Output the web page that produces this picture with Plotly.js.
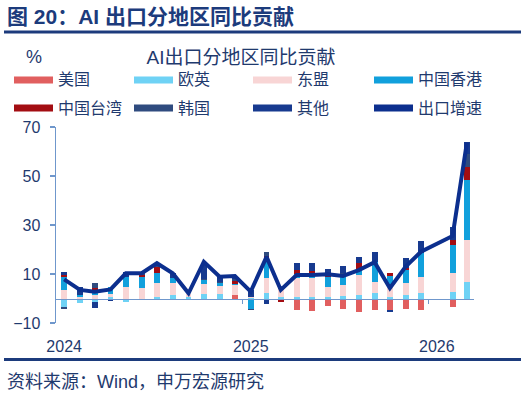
<!DOCTYPE html>
<html>
<head>
<meta charset="utf-8">
<script src="https://cdn.plot.ly/plotly-3.0.1.min.js"></script>
<style>
html,body{margin:0;padding:0;background:#fff;}
#chart{width:530px;height:396px;}
</style>
</head>
<body>
<div id="chart"></div>
<script>
// ---- data (monthly, % contribution to AI export YoY growth) ----
const months = ['2024-01','2024-02','2024-03','2024-04','2024-05','2024-06','2024-07','2024-08','2024-09','2024-10','2024-11','2024-12',
                '2025-01','2025-02','2025-03','2025-04','2025-05','2025-06','2025-07','2025-08','2025-09','2025-10','2025-11','2025-12',
                '2026-01','2026-02','2026-03'];
const seriesNames = ['美国','欧英','东盟','中国香港','中国台湾','韩国','其他'];
const us    = [0, -0.6, 0, 0, 0, 0, 0, 0, 0, 0, 0, 1.4, -0.1, 0, -0.5, -4.6, -4.9, -3.0, -4.4, -5.4, -4.5, -4.5, -4.4, -4.7, null, -3.3, -0.3];
const euUk  = [-3.3, -1.2, -1.3, 0.5, -1.3, -0.8, 0.5, 1.4, 0.5, 2.0, 1.8, 0.2, 0.3, 2.1, 0.6, 0.7, 0.7, 0.5, 1.0, 1.4, 2.1, 0.6, 1.4, 2.1, null, 2.8, 6.9];
const asean = [3.5, 0.5, 1.4, 1.5, 4.8, 4.1, 5.7, 4.8, 1.2, 3.8, 3.5, 3.9, 0.5, 6.1, 3.4, 7.5, 7.6, 4.3, 4.5, 8.2, 4.8, 4.8, 4.8, 6.8, null, 7.5, 17.0];
const hk    = [5.4, 1.0, 1.4, 2.9, 4.1, 4.5, 4.1, 2.0, 0, 1.8, 0.9, 0.3, -4.0, 7.5, 0.8, 2.0, 1.4, 4.1, 4.1, 2.0, 8.1, 3.8, 5.4, 9.5, null, 11.5, 24.5];
const tw    = [0.8, 0, 1.4, 0, 0, 1.1, 2.7, 0, -0.5, 0, 0, 1.5, 0, 1.6, -0.9, 1.4, 1.4, 1.1, 0, 2.8, 0, 1.1, 1.0, 0, null, 2.1, 5.4];
const kr    = [-1.0, 0, 2.0, 0, 0, 0.7, 0.5, 0, 0, 0.5, 0.6, 0.5, -0.6, 1.8, 0, 0, 0, 0, 0.8, 0, 0, 0, 0, 0, null, 0, 5.0];
const other = [1.2, 3.0, -2.7, -1.0, 2.0, 0, -0.4, 2.1, 0, 6.5, 2.7, 1.1, 2.8, -2.2, 0, 2.8, 3.4, 1.9, 2.7, 2.7, 4.1, -1.2, 3.8, 5.2, null, 5.4, 5.2];
const exportGrowth = [7.8, 3.5, 2.8, 3.7, 10.3, 10.3, 14.4, 10.3, 2.1, 15.0, 8.9, 9.2, 2.8, 17.0, 3.5, 9.6, 9.6, 9.9, 9.2, 11.6, 14.8, 4.2, 13.0, 19.1, null, 25.5, 63.6];
const lineName = '出口增速';
const yTicks = [-10, 10, 30, 50, 70];

// ---- styles ----
const colors = ['#e15f5f','#6fd2f5','#f8d5d5','#11a0dc','#a30d12','#2f4b7f','#173a8f'];
const lineColor = '#0c2f8e';
const navy = '#1f3a6e';
const axisBlue = '#6f97cc';
const FONT = 'Arial, "Liberation Sans", "Noto Sans CJK SC", sans-serif';

const values = [us, euUk, asean, hk, tw, kr, other];
const x = months.map(m => m + '-01');

const traces = [];
values.forEach((v, i) => {
  traces.push({
    type: 'bar', name: seriesNames[i], x: x, y: v,
    marker: {color: colors[i], line: {width: 0}},
    width: 1.0e9, showlegend: false
  });
});
traces.push({
  type: 'scatter', mode: 'lines', name: lineName, x: x, y: exportGrowth, xaxis: 'x2',
  connectgaps: true, line: {color: lineColor, width: 4}, showlegend: false
});

const xr = ['2023-12-16', '2026-03-15'];
const px = v => (v - 56) / 418;
const py = v => (323 - v) / 196;

const annotations = [
  {text: '<b>图 20：AI 出口分地区同比贡献</b>', xref: 'paper', yref: 'paper', x: px(5), y: py(17),
   xanchor: 'left', yanchor: 'middle', showarrow: false, font: {size: 21, color: '#1c3b7c', family: FONT}},
  {text: '%', xref: 'paper', yref: 'paper', x: px(34), y: py(57), xanchor: 'center', yanchor: 'middle',
   showarrow: false, font: {size: 18, color: navy}},
  {text: '资料来源：Wind，申万宏源研究', xref: 'paper', yref: 'paper', x: px(5), y: py(381.5),
   xanchor: 'left', yanchor: 'middle', showarrow: false, font: {size: 18, color: navy}}
];
const shapes = [
  {type: 'line', xref: 'paper', yref: 'paper', x0: px(4), x1: px(521), y0: py(32), y1: py(32),
   line: {color: '#1c3b7c', width: 3}},
  {type: 'line', xref: 'paper', yref: 'paper', x0: px(4), x1: px(521), y0: py(359.5), y1: py(359.5),
   line: {color: '#1c3b7c', width: 3}}
];
// legend: 4 columns x 2 rows, wide flat swatches
const legNames = seriesNames.concat([lineName]);
const legColors = colors.concat([lineColor]);
const colX = [14, 134, 253, 374];
const rowY = [80, 108];
legNames.forEach((n, i) => {
  const cx = colX[i % 4], cy = rowY[Math.floor(i / 4)];
  shapes.push({type: 'line', xref: 'paper', yref: 'paper', x0: px(cx), x1: px(cx + 39), y0: py(cy), y1: py(cy),
               line: {color: legColors[i], width: 7}});
  annotations.push({text: n, xref: 'paper', yref: 'paper', x: px(cx + 42), y: py(cy), xanchor: 'left', yanchor: 'middle',
                    showarrow: false, font: {size: 16, color: navy}});
});

const layout = {
  width: 530, height: 396,
  margin: {l: 56, r: 56, t: 127, b: 73},
  paper_bgcolor: '#fff', plot_bgcolor: '#fff',
  font: {family: FONT, color: navy, size: 16},
  showlegend: false,
  barmode: 'relative', bargap: 0,
  title: {text: 'AI出口分地区同比贡献', x: 241/530, xref: 'container', xanchor: 'center',
          y: 1 - 57/396, yref: 'container', yanchor: 'middle',
          font: {size: 19, color: navy, family: FONT}},
  xaxis: {type: 'date', range: xr, tick0: '2024-01-01', dtick: 'M12', tickformat: '%Y',
          showgrid: false, zeroline: false, showline: false, ticks: '',
          ticklabelstandoff: 12, tickfont: {size: 16, color: navy}},
  xaxis2: {type: 'date', range: xr, overlaying: 'x', anchor: 'free', position: 0.125,
           showline: true, linecolor: axisBlue, linewidth: 1.5, showgrid: false, zeroline: false,
           ticks: 'outside', ticklen: 4, tickcolor: axisBlue, tickwidth: 1.5,
           tickmode: 'array', tickvals: ['2024-12-16', '2025-12-16'], showticklabels: false},
  yaxis: {range: [-10, 70], tickmode: 'array', tickvals: yTicks,
          showgrid: false, zeroline: false, showline: true, linecolor: axisBlue, linewidth: 1.5,
          ticks: 'outside', ticklen: 5, tickcolor: axisBlue, tickwidth: 1.5,
          ticklabelstandoff: 6, tickfont: {size: 16, color: navy}},
  annotations: annotations,
  shapes: shapes
};

Plotly.newPlot('chart', traces, layout, {displayModeBar: false, staticPlot: true});
</script>
</body>
</html>
